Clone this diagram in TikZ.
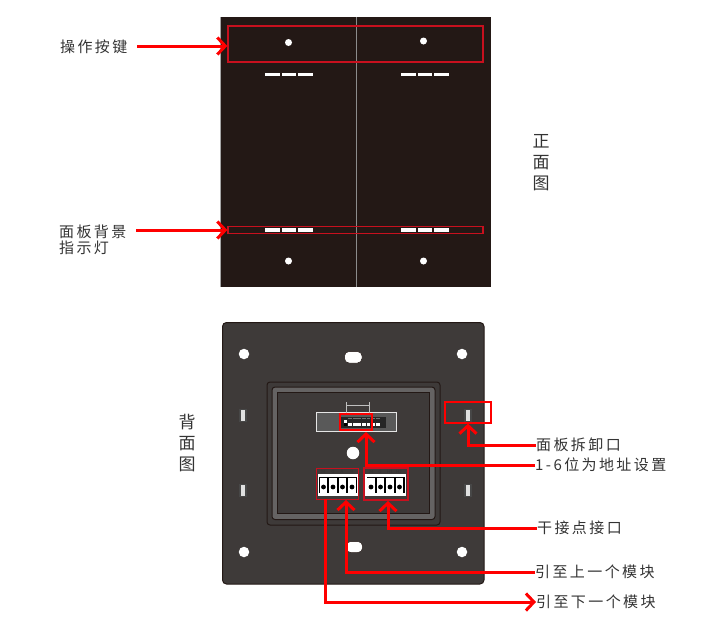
\documentclass[tikz,border=0pt]{standalone}
\usepackage{fontspec}
\usepackage{xcolor}
\usepackage{tikz}
\usetikzlibrary{arrows.meta, positioning}
\newfontfamily\cjk[LetterSpace=16]{Noto Sans CJK SC}
\definecolor{panelblack}{HTML}{231815}
\definecolor{panelgrey}{HTML}{3E3A39}
\definecolor{bandgrey}{HTML}{656363}
\definecolor{boxred}{HTML}{C8101E}
\tikzset{
  >={Straight Barb[length=8pt,width=17pt,line width=3pt]},
  lbl/.style={font=\cjk\fontsize{15}{15}\selectfont,text=black!80,inner sep=0pt,align=left},
  sidelbl/.style={font=\cjk\fontsize{17}{21}\selectfont,text=black!80,inner sep=0pt,align=center},
  pinlbl/.style={font=\sffamily\fontsize{4.5}{5}\selectfont,text=black!80,inner sep=0pt},
  lead/.style={red,line width=3pt,->},
  redbox/.style={draw=boxred,line width=1.3pt,inner sep=0pt,fill=none},
  redthin/.style={draw=red,line width=1.2pt,inner sep=0pt,fill=none},
  hole/.style={circle,fill=white,inner sep=0pt,minimum size=#1},
  oval/.style={rounded corners=4.5pt,fill=white,draw=panelblack,line width=.5pt},
  ledbar/.style={fill=white,draw=none},
}
\begin{document}
\begin{tikzpicture}[x=1pt,y=-1pt]
\useasboundingbox (0,0) rectangle (710,622);
% front
\fill[black!35] (220,17) rectangle (221,287);
\fill[panelblack] (221,17) rectangle (491,287);
\draw[black!45,line width=.8pt] (356.5,17) -- (356.5,287);
\foreach \xa in {265,401}{
  \foreach \xb in {0,16.5,33}{
    \fill[ledbar] (\xa+\xb,72.5) rectangle +(14.5,3.5);
    \fill[ledbar] (\xa+\xb,228) rectangle +(14.5,3.5);
  }
}
\node[hole=7pt] (dotA) at (288.5,42.5) {};
\node[hole=7pt] (dotB) at (423.5,41) {};
\node[hole=7pt] (dotC) at (288.5,261) {};
\node[hole=7pt] (dotD) at (423.5,261) {};
\node[redbox,minimum width=255pt,minimum height=36pt] (keybox) at (355.5,44) {};
\node[redbox,minimum width=255pt,minimum height=6.5pt] (ledbox) at (355.5,230) {};
% back
\draw[panelblack,line width=1pt,fill=panelgrey,rounded corners=4pt] (222.5,322.5) rectangle (484,584);
\foreach \xa/\ya in {244/354,462/354,244/552,462/552}{
  \node[hole=10.5pt] at (\xa,\ya) {};
}
\draw[oval] (344.5,351.5) rectangle (362,363);
\draw[oval] (346,541.5) rectangle (362.5,552.5);
\foreach \xa/\ya in {243/415,468/415,243/490,468/490}{
  \fill[black!72] (\xa-4,\ya-6.5) rectangle (\xa+4,\ya+6.5);
  \fill[black!12] (\xa-1.7,\ya-5.5) rectangle (\xa+1.7,\ya+5.5);
}
\draw[panelblack,line width=1pt,rounded corners=3pt] (267,382) rectangle (440,525);
\draw[panelblack,line width=1pt,fill=bandgrey,rounded corners=3pt] (272,387) rectangle (435,519.5);
\draw[panelblack,line width=1pt,fill=panelgrey] (277,392) rectangle (429.5,513.5);
% dip switch
\draw[black!10,line width=1pt,fill=black!65] (316.5,412.5) rectangle (396.5,431.5);
\fill[black!85] (341,417) rectangle (386,428);
\foreach \xa in {0,1,...,6}{
  \fill[white] (350+\xa*4.6-1.8,423) rectangle +(3.7,3.2);
  \fill[black!55] (350+\xa*4.6-1.8,417.5) rectangle +(3.7,1.5);
}
\fill[white] (343.5,419.5) rectangle +(3.8,3);
\fill[black] (343.5,422.5) rectangle +(3.8,3.5);
\draw[black!25,line width=.6pt] (346.5,402) -- (346.5,414) (369.5,402) -- (369.5,414) (346.5,405) -- (369.5,405);
\node[hole=12.5pt] (dotE) at (353,453) {};
% terminals
\foreach \xs in {317.5,365}{
  \fill[white] (\xs,474) rectangle +(41,21.5);
  \fill[black] (\xs+1.5,477) rectangle +(38,16);
  \foreach \xa in {0,1,2,3}{
    \fill[white] (\xs+2.2+\xa*9.5,478) rectangle +(7.4,17);
    \fill[black] (\xs+6+\xa*9.5,487) circle (2.4pt);
  }
}
\foreach \xa/\pin in {323/24,333/G,342/A,352/B,371/24,380/G,390/H1,399/H2}{
  \node[pinlbl] at (\xa,471.5) {\pin};
}
\node[redbox,minimum width=42pt,minimum height=31pt] (leftbox) at (337.5,484) {};
\node[redbox,minimum width=44pt,minimum height=32pt] (rightbox) at (386,484) {};
\node[redthin,line width=1.8pt,minimum width=32pt,minimum height=16pt] (dipbox) at (356,422) {};
\node[redthin,minimum width=46pt,minimum height=21pt] (slotbox) at (468,412.5) {};
% labels
\node[lbl,anchor=west] (keylbl) at (60,47) {操作按键};
\node[lbl,anchor=west] (ledlbl) at (59,240) {面板背景\\[1pt]指示灯};
\node[sidelbl,anchor=north] (frontlbl) at (541,134) {正\\面\\图};
\node[sidelbl,anchor=north] (backlbl) at (187,414) {背\\面\\图};
\node[lbl,anchor=west] (slotlbl) at (536,445) {面板拆卸口};
\node[lbl,anchor=west] (diplbl) at (535,465) {1-6位为地址设置};
\node[lbl,anchor=west] (drylbl) at (537,528) {干接点接口};
\node[lbl,anchor=west] (uplbl) at (535,572) {引至上一个模块};
\node[lbl,anchor=west] (downlbl) at (536,602) {引至下一个模块};
\coordinate (ledtail) at (136,230);
\coordinate (keytail) at (137,46);
\draw[lead] (keytail) -- (keybox.west |- keytail);
\draw[lead] (ledtail) -- (ledbox.west);
\draw[lead] (slotlbl.west) -| (slotbox.south);
\draw[lead] (diplbl.west) -| (366,432);
\draw[lead] (drylbl.west) -| (388,501);
\draw[lead] (uplbl.west) -| (346,500);
\draw[lead] (325,499) |- (downlbl.west);
\end{tikzpicture}
\end{document}
